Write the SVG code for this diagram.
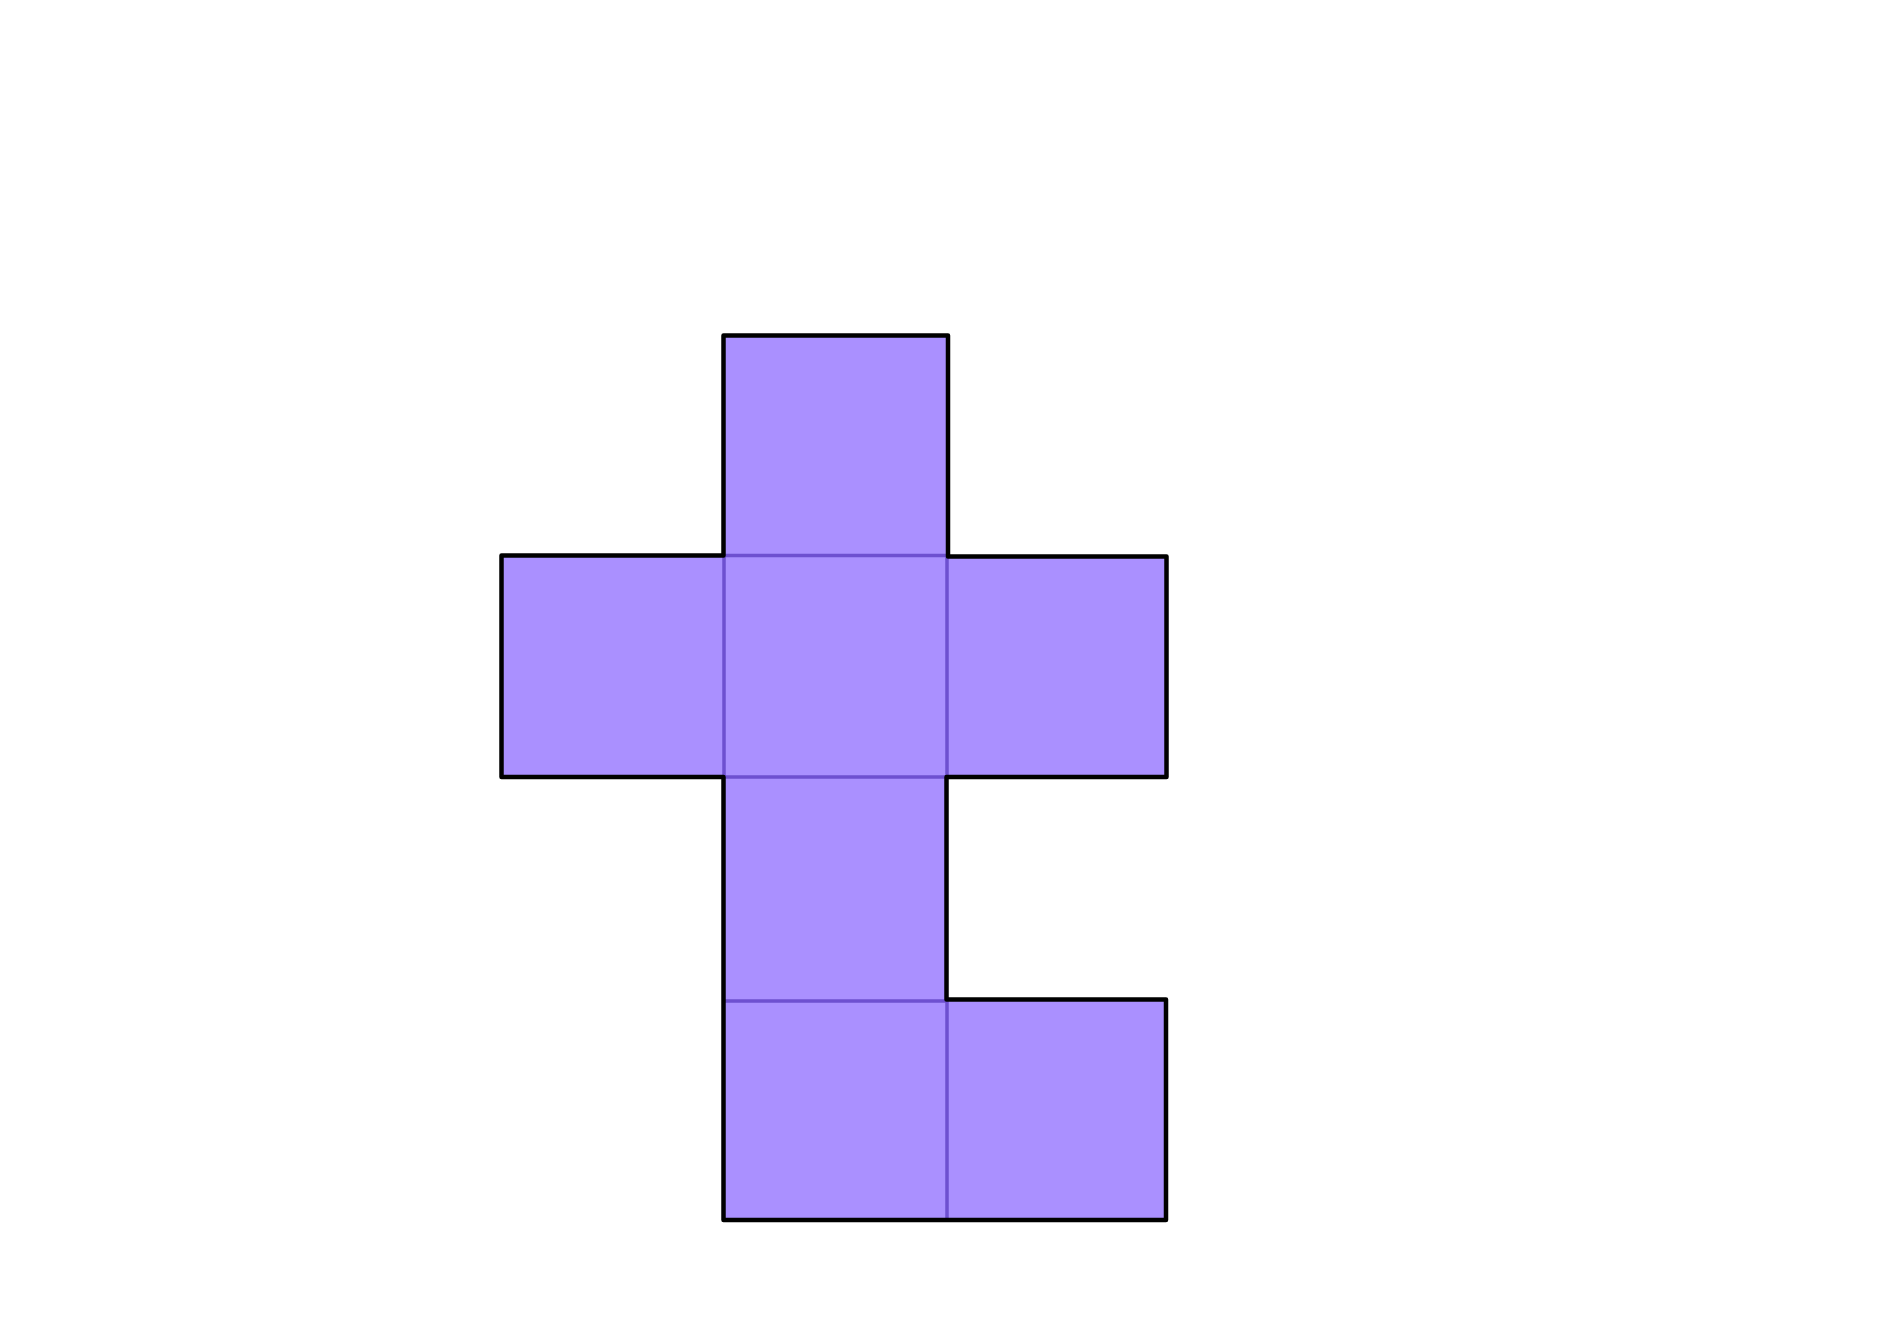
<svg xmlns="http://www.w3.org/2000/svg" width="1904" height="1330" viewBox="0 0 1904 1330">
<style>
.sq{fill:#aa90ff;stroke:none}
.inner{stroke:#6e50d0;stroke-width:3.5;fill:none}
.outline{stroke:#000;stroke-width:4.5;fill:none;stroke-linejoin:round;stroke-linecap:round}
</style>
<rect width="1904" height="1330" fill="#fff"/>
<g id="squares">
<g id="sq-top"><rect class="sq" x="723.5" y="335.5" width="224.5" height="220.5"/></g>
<g id="sq-left"><rect class="sq" x="501.5" y="555.5" width="222.5" height="221.5"/></g>
<g id="sq-center"><rect class="sq" x="723.5" y="555.5" width="224" height="221.5"/></g>
<g id="sq-right"><rect class="sq" x="947" y="556" width="219.5" height="221"/></g>
<g id="sq-mid"><rect class="sq" x="723.5" y="777" width="223.5" height="224"/></g>
<g id="sq-bottom"><rect class="sq" x="723.5" y="1000" width="224" height="220"/></g>
<g id="sq-bottom-right"><rect class="sq" x="946.5" y="999.5" width="219.5" height="220.5"/></g>
</g>
<g id="connectors">
<path class="inner" d="M723.5 555.5H948 M724 555.5V777 M947 556V777 M723.5 777H947 M723.5 1001H947 M947 1001V1220"/>
<path class="outline" d="M723.5 335.5H948V556.5H1166.5V777H946.5V999.5H1166V1220H723.5V777H501.5V555.5H723.5Z"/>
</g>
</svg>
